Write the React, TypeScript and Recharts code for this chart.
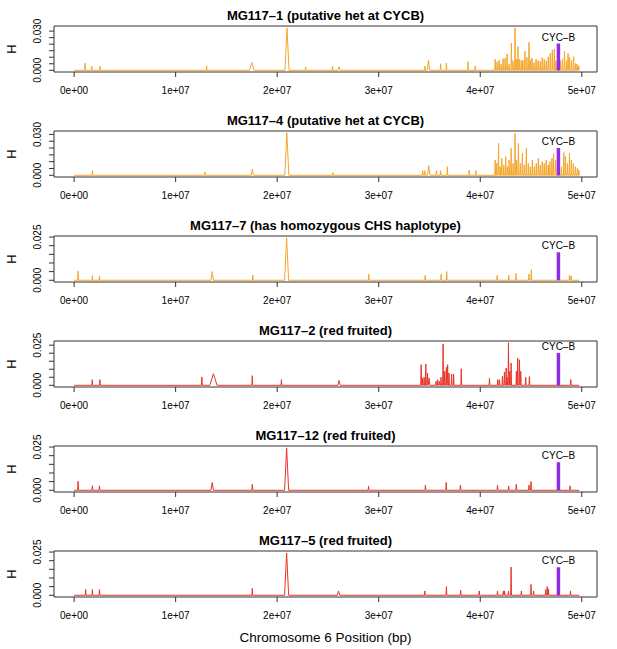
import React from 'react';
import { LineChart, Line, XAxis, YAxis, ReferenceLine, ReferenceArea } from 'recharts';

// ---------- data (position in bp, H value, optional half-width of the peak base) ----------
type Spike = [number, number, number?];

const panelTitles = [
  'MG117–1 (putative het at CYCB)',
  'MG117–4 (putative het at CYCB)',
  'MG117–7 (has homozygous CHS haplotype)',
  'MG117–2 (red fruited)',
  'MG117–12 (red fruited)',
  'MG117–5 (red fruited)',
];

const panelColors = ['#F5A62B', '#F5A62B', '#F5A62B', '#E8352A', '#E8352A', '#E8352A'];

const xTicks = [0, 1e7, 2e7, 3e7, 4e7, 5e7];
const xTickLabels = ['0e+00', '1e+07', '2e+07', '3e+07', '4e+07', '5e+07'];

const yTicks030 = [0, 0.005, 0.01, 0.015, 0.02, 0.025, 0.03];
const yTicks025 = [0, 0.005, 0.01, 0.015, 0.02, 0.025];
const yTickLabels030 = ['0.000', '0.030'];
const yTickLabels025 = ['0.000', '0.025'];

const yDomains: [number, number][] = [
  [-0.0013, 0.0339],
  [-0.00125, 0.0325],
  [-0.001, 0.0256],
  [-0.00106, 0.0276],
  [-0.001, 0.0256],
  [-0.001, 0.0256],
];

const cycbPosition = 4.77e7;
const cycbHeights = [0.0205, 0.02, 0.0162, 0.0202, 0.0162, 0.0162];

const mg117_1: Spike[] = [
  [1.08e6, 0.0054], [1.74e6, 0.0032], [2.55e6, 0.0032], [1.305e7, 0.0035], [1.75e7, 0.006, 2.3e5],
  [2.097e7, 0.0324, 2e5], [2.28e7, 0.0027], [2.545e7, 0.0032], [2.61e7, 0.0027, 1e5], [3.455e7, 0.0032],
  [3.49e7, 0.0075, 1.2e5], [3.61e7, 0.005], [3.667e7, 0.0056], [3.879e7, 0.0066], [3.95e7, 0.0034],
  [4.147e7, 0.0085], [4.166e7, 0.0065], [4.186e7, 0.0078], [4.205e7, 0.0047], [4.225e7, 0.009],
  [4.245e7, 0.0093], [4.264e7, 0.0124], [4.284e7, 0.0047], [4.307e7, 0.0207], [4.323e7, 0.0073],
  [4.343e7, 0.0326], [4.359e7, 0.0085], [4.372e7, 0.0181], [4.388e7, 0.0085], [4.405e7, 0.0073],
  [4.42e7, 0.0078], [4.44e7, 0.0145], [4.46e7, 0.0098], [4.48e7, 0.0215], [4.495e7, 0.0078],
  [4.51e7, 0.0093], [4.53e7, 0.006], [4.55e7, 0.0085], [4.57e7, 0.0073], [4.59e7, 0.0067],
  [4.61e7, 0.0098], [4.63e7, 0.0085], [4.65e7, 0.0073], [4.67e7, 0.0104], [4.69e7, 0.013],
  [4.71e7, 0.0155], [4.73e7, 0.0163], [4.745e7, 0.0073], [4.79e7, 0.0073], [4.81e7, 0.0085],
  [4.83e7, 0.0145], [4.85e7, 0.0073], [4.865e7, 0.013], [4.88e7, 0.0098], [4.9e7, 0.0078],
  [4.92e7, 0.0104], [4.94e7, 0.0052], [4.955e7, 0.0047], [4.97e7, 0.0034],
];

const mg117_4: Spike[] = [
  [1.8e6, 0.0034], [1.29e7, 0.0025], [1.755e7, 0.0045, 1e5], [2.095e7, 0.0312, 2e5], [2.55e7, 0.002],
  [3.434e7, 0.0034], [3.454e7, 0.0034], [3.493e7, 0.0071, 1.2e5], [3.568e7, 0.0034], [3.61e7, 0.0034],
  [3.676e7, 0.0063], [3.891e7, 0.0039], [3.957e7, 0.0034],
  [4.147e7, 0.0112], [4.163e7, 0.0088], [4.18e7, 0.0234], [4.196e7, 0.0063], [4.212e7, 0.0124],
  [4.232e7, 0.0076], [4.251e7, 0.0137], [4.268e7, 0.0063], [4.284e7, 0.0112], [4.304e7, 0.0198],
  [4.323e7, 0.0088], [4.343e7, 0.0307], [4.359e7, 0.0112], [4.376e7, 0.0234], [4.395e7, 0.0088],
  [4.415e7, 0.0161], [4.434e7, 0.0076], [4.454e7, 0.0198], [4.474e7, 0.0088], [4.493e7, 0.0063],
  [4.513e7, 0.0112], [4.533e7, 0.0063], [4.552e7, 0.0088], [4.572e7, 0.0124], [4.591e7, 0.0076],
  [4.611e7, 0.01], [4.63e7, 0.0088], [4.65e7, 0.0112], [4.67e7, 0.0076], [4.686e7, 0.01],
  [4.706e7, 0.0124], [4.722e7, 0.0161], [4.742e7, 0.0112], [4.8e7, 0.0063], [4.823e7, 0.0166],
  [4.839e7, 0.0137], [4.859e7, 0.0088], [4.879e7, 0.0161], [4.898e7, 0.0112], [4.918e7, 0.0088],
  [4.938e7, 0.0063], [4.957e7, 0.0051], [4.971e7, 0.0039],
];

const mg117_7: Spike[] = [
  [3.9e5, 0.0053], [1.8e6, 0.0026], [2.5e6, 0.0026], [1.36e7, 0.005, 1.2e5], [1.76e7, 0.003],
  [2.093e7, 0.0245, 2e5], [2.902e7, 0.0036], [3.458e7, 0.0029], [3.615e7, 0.0036], [3.67e7, 0.005],
  [4.167e7, 0.0029], [4.281e7, 0.0029], [4.353e7, 0.004], [4.48e7, 0.0036], [4.503e7, 0.0061],
  [4.879e7, 0.0029], [4.895e7, 0.0025],
];

const mg117_2: Spike[] = [
  [1.79e6, 0.0035], [2.54e6, 0.0035], [1.258e7, 0.0052], [1.372e7, 0.0072, 3.6e5], [1.755e7, 0.006],
  [2.042e7, 0.0035], [2.61e7, 0.003, 1.2e5], [3.418e7, 0.0128], [3.431e7, 0.0045], [3.447e7, 0.005],
  [3.464e7, 0.0132], [3.48e7, 0.0076], [3.496e7, 0.0045, 8e4], [3.565e7, 0.0025], [3.581e7, 0.0035],
  [3.598e7, 0.0025], [3.614e7, 0.005], [3.634e7, 0.0258], [3.65e7, 0.0087], [3.666e7, 0.0112],
  [3.679e7, 0.0128], [3.692e7, 0.0076], [3.718e7, 0.007], [3.738e7, 0.007], [3.813e7, 0.0103],
  [4.091e7, 0.0045], [4.173e7, 0.0035], [4.189e7, 0.0035], [4.219e7, 0.0056], [4.238e7, 0.0083],
  [4.255e7, 0.0107], [4.265e7, 0.005], [4.278e7, 0.0265], [4.291e7, 0.0087], [4.304e7, 0.0138],
  [4.356e7, 0.0087], [4.369e7, 0.017], [4.386e7, 0.0159], [4.399e7, 0.0087], [4.448e7, 0.005],
  [4.484e7, 0.0054], [4.892e7, 0.0035],
];

const mg117_12: Spike[] = [
  [3.9e5, 0.0052], [1.8e6, 0.0026], [2.5e6, 0.0026], [1.36e7, 0.0045, 1.2e5], [1.755e7, 0.0035],
  [2.093e7, 0.0245, 2e5], [2.9e7, 0.0025], [3.46e7, 0.003], [3.665e7, 0.0045], [3.805e7, 0.003],
  [4.17e7, 0.003], [4.28e7, 0.0025], [4.355e7, 0.0035], [4.48e7, 0.003], [4.5e7, 0.005],
  [4.885e7, 0.0025],
];

const mg117_5: Spike[] = [
  [1.14e6, 0.0033], [1.8e6, 0.0033], [2.5e6, 0.0033], [1.755e7, 0.004], [2.093e7, 0.0245, 2e5],
  [2.604e7, 0.0025, 1.2e5], [3.454e7, 0.0025], [3.667e7, 0.005], [3.807e7, 0.003], [3.99e7, 0.0025],
  [4.17e7, 0.0025], [4.228e7, 0.0025], [4.24e7, 0.0025], [4.278e7, 0.0025], [4.304e7, 0.0163],
  [4.405e7, 0.0025], [4.5e7, 0.0063], [4.526e7, 0.0025], [4.645e7, 0.0033], [4.66e7, 0.005],
  [4.672e7, 0.0037], [4.889e7, 0.0025],
];

const panelSpikes = [mg117_1, mg117_4, mg117_7, mg117_2, mg117_12, mg117_5];
const seqStart = 0;
const seqEnd = 4.975e7;

// ---------- layout ----------
const W = 617;
const H = 649;
const PANEL_H = 105;
const MARGIN_TOP = 26;
const PLOT_H = 46;
const LEFT = 54;
const RIGHT = 20;
const X_DOMAIN: [number, number] = [-1.98e6, 5.15e7];
const FONT = '"Liberation Sans", Arial, Helvetica, sans-serif';

function buildLine(spikes: Spike[]) {
  const pts: { x: number; y: number }[] = [{ x: seqStart, y: 0 }];
  const sorted = [...spikes].sort((a, b) => a[0] - b[0]);
  for (const s of sorted) {
    const hw = s[2] ?? 4e4;
    pts.push({ x: s[0] - hw, y: 0 }, { x: s[0], y: s[1] }, { x: s[0] + hw, y: 0 });
  }
  pts.push({ x: seqEnd, y: 0 });
  return pts;
}

const XTick = (props: any) => {
  const { x, y, payload } = props;
  const i = xTicks.indexOf(payload.value);
  return (
    <text x={x} y={y + 11.6} textAnchor="middle" dominantBaseline="central" fontSize={10} fontFamily={FONT} fill="#000">
      {i >= 0 ? xTickLabels[i] : ''}
    </text>
  );
};

const makeYTick = (ticks: number[], labels: string[]) => (props: any) => {
  const { y, payload } = props;
  let label = '';
  if (payload.value === ticks[0]) label = labels[0];
  else if (payload.value === ticks[ticks.length - 1]) label = labels[1];
  if (!label) return <g />;
  const cx = 37.5;
  return (
    <text
      transform={`translate(${cx},${y}) rotate(-90)`}
      textAnchor="middle"
      dominantBaseline="central"
      fontSize={10}
      fontFamily={FONT}
      fill="#000"
    >
      {label}
    </text>
  );
};

function Panel({ idx }: { idx: number }) {
  const data = buildLine(panelSpikes[idx]);
  const yDomain = yDomains[idx];
  const ticks = idx < 2 ? yTicks030 : yTicks025;
  const labels = idx < 2 ? yTickLabels030 : yTickLabels025;
  return (
    <LineChart width={W} height={PANEL_H} data={data} margin={{ top: MARGIN_TOP, right: RIGHT, bottom: 0, left: 0 }}>
      <XAxis
        type="number"
        dataKey="x"
        domain={X_DOMAIN}
        ticks={xTicks}
        allowDataOverflow
        height={PANEL_H - MARGIN_TOP - PLOT_H}
        axisLine={false}
        tickLine={{ stroke: '#333' }}
        tickSize={5}
        tickMargin={2}
        tick={<XTick />}
        interval={0}
      />
      <YAxis
        type="number"
        domain={yDomain}
        ticks={ticks}
        allowDataOverflow
        width={LEFT}
        axisLine={false}
        tickLine={{ stroke: '#333' }}
        tickSize={5}
        tickMargin={2}
        tick={makeYTick(ticks, labels)}
        interval={0}
      />
      <Line
        type="linear"
        dataKey="y"
        stroke={panelColors[idx]}
        strokeWidth={1}
        dot={false}
        activeDot={false}
        isAnimationActive={false}
      />
      <ReferenceLine
        segment={[
          { x: cycbPosition, y: 0 },
          { x: cycbPosition, y: cycbHeights[idx] },
        ]}
        stroke="#8E2DE2"
        strokeWidth={3.5}
        label={{ value: 'CYC–B', position: 'top', offset: 3, fontSize: 10, fill: '#000', fontFamily: FONT }}
      />
      <ReferenceArea
        x1={X_DOMAIN[0]}
        x2={X_DOMAIN[1]}
        y1={yDomain[0]}
        y2={yDomain[1]}
        fill="none"
        fillOpacity={0}
        stroke="#333"
        strokeWidth={1}
        ifOverflow="visible"
      />
    </LineChart>
  );
}

export default function App() {
  const titleX = LEFT + (W - LEFT - RIGHT) / 2;
  return (
    <div style={{ position: 'absolute', left: 0, top: 0, width: W, height: H, background: '#fff', overflow: 'hidden' }}>
      {panelTitles.map((_, i) => (
        <div key={i} style={{ position: 'absolute', left: 0, top: i * PANEL_H, width: W, height: PANEL_H }}>
          <Panel idx={i} />
        </div>
      ))}
      <svg width={W} height={H} style={{ position: 'absolute', left: 0, top: 0, pointerEvents: 'none' }}>
        {panelTitles.map((t, i) => (
          <g key={i}>
            <text
              x={titleX}
              y={MARGIN_TOP + i * PANEL_H - 11}
              textAnchor="middle"
              dominantBaseline="central"
              fontSize={13}
              fontWeight="bold"
              fontFamily={FONT}
              fill="#000"
            >
              {t}
            </text>
            <text
              transform={`translate(11,${MARGIN_TOP + i * PANEL_H + PLOT_H / 2}) rotate(-90)`}
              textAnchor="middle"
              dominantBaseline="central"
              fontSize={13}
              fontFamily={FONT}
              fill="#000"
            >
              H
            </text>
          </g>
        ))}
        <text x={titleX} y={637} textAnchor="middle" dominantBaseline="central" fontSize={13.5} fontFamily={FONT} fill="#000">
          Chromosome 6 Position (bp)
        </text>
      </svg>
    </div>
  );
}
